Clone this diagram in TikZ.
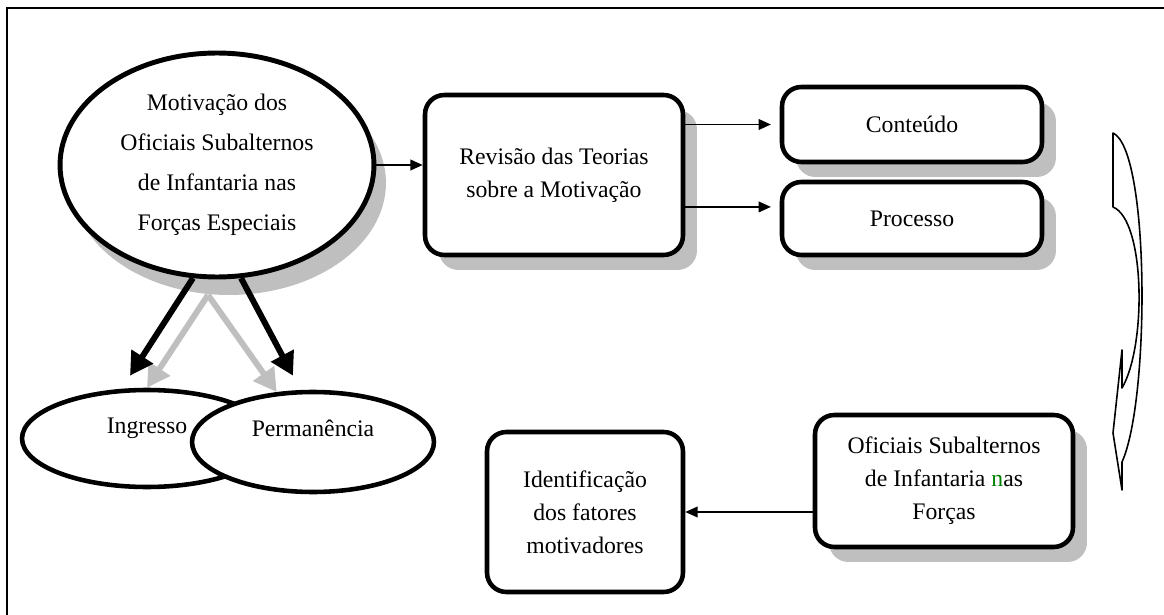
\documentclass[tikz,border=0pt]{standalone}
\usepackage{fontspec}
\setmainfont{Liberation Serif}
\usetikzlibrary{shapes.geometric,shadows,arrows.meta,calc}
\definecolor{ngreen}{RGB}{0,128,0}

\begin{document}
\begin{tikzpicture}[x=0.02cm, y=-0.02cm,
    box/.style={draw, rounded corners=11pt, line width=2.6pt, fill=white, align=center,
        inner sep=0pt, font=\fontsize{13.5}{18.8}\selectfont},
    shadowed/.style={drop shadow={shadow xshift=0.28cm, shadow yshift=-0.3cm,
        fill=black!25, opacity=1}},
    oval/.style={draw, ellipse, line width=2.6pt, fill=white, inner sep=0pt,
        text height=9pt, text depth=15pt, font=\fontsize{13.5}{16}\selectfont},
    arr/.style={-{Triangle[length=7pt,width=6pt]}, line width=1.1pt},
    fatarr/.style={-{Triangle[length=13pt,width=14pt]}, line width=3.4pt}
]

    % Page size and the frame (only top and left edges show)
    \useasboundingbox (0,0) rectangle (1164,615);
    \draw[line width=1.2pt] (7,615) -- (7,8) -- (1164,8);

    % Main theme in the big ellipse
    \node[draw, ellipse, line width=2.8pt, fill=white, inner sep=0pt,
        minimum width=6.28cm, minimum height=4.48cm, align=center,
        font=\fontsize{13.5}{22.8}\selectfont,
        drop shadow={shadow xshift=0.24cm, shadow yshift=-0.36cm, fill=black!25, opacity=1}]
        (mot) at (217,165) {Motivação dos\\Oficiais Subalternos\\de Infantaria nas\\Forças Especiais};

    % Review of the theories and its two branches
    \node[box, shadowed, minimum width=5.16cm, minimum height=3.2cm] (rev) at (554,175)
        {Revisão das Teorias\\sobre a Motivação};
    \node[box, shadowed, minimum width=5.2cm, minimum height=1.5cm] (cont) at (912,124.5) {Conteúdo};
    \node[box, shadowed, minimum width=5.2cm, minimum height=1.46cm] (proc) at (912,218.5) {Processo};

    % Bottom row
    \node[box, shadowed, minimum width=5.16cm, minimum height=2.64cm] (ofi) at (944,481)
        {Oficiais Subalternos\\de Infantaria \textcolor{ngreen}{n}as\\Forças};
    \node[box, minimum width=3.92cm, minimum height=3.2cm] (ident) at (585,512)
        {Identificação\\dos fatores\\motivadores};

    % The two overlapping ovals
    \node[oval, minimum width=5cm, minimum height=1.94cm] (ing) at (147,438.5) {Ingresso};
    \node[oval, minimum width=4.84cm, minimum height=2cm] (perm) at (313,442) {Permanência};

    % Thin connectors
    \draw[arr] (mot.east) -- (mot.east -| rev.west);
    \draw[arr, shorten >=5pt] (rev.east |- cont.west) -- (cont.west);
    \draw[arr, shorten >=5pt] (rev.east |- proc.175) -- (proc.175);
    \draw[arr] (ofi.west |- ident.east) -- (ident.east);

    % Fat arrows down to the ovals, grey ones first
    \coordinate (fork) at (208,295);
    \draw[fatarr, black!25] (fork) -- (ing.north);
    \draw[fatarr, black!25] (fork) -- (perm.126);
    \draw[fatarr] (mot.258) -- ($(ing.north)+(-17,-12)$);
    \draw[fatarr] (mot.282) -- ($(perm.north)+(-20,-14)$);

    % Curved arrow on the right side
    \draw[line width=0.9pt, line join=round] (1113,133) -- (1113,207)
        .. controls (1145,220) and (1147,345) .. (1122,388)
        -- (1122,350) -- (1113,433) -- (1122,490) -- (1122,462)
        .. controls (1150,400) and (1150,150) .. (1113,133) -- cycle;

\end{tikzpicture}
\end{document}
